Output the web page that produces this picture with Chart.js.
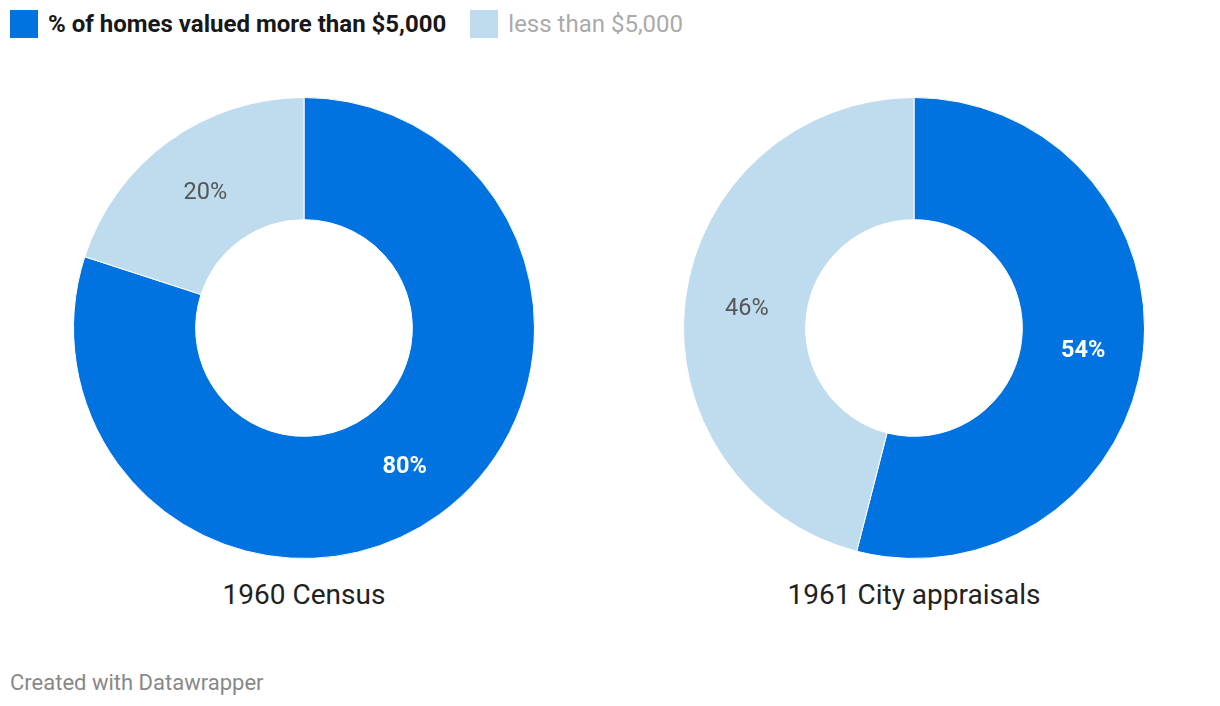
<!DOCTYPE html>
<html>
<head>
<meta charset="utf-8">
<script src="https://cdn.jsdelivr.net/npm/chart.js@4/dist/chart.umd.min.js"></script>
<style>
  html, body { margin: 0; padding: 0; background: #fff; width: 1220px; height: 706px; overflow: hidden; font-family: Roboto, "Noto Sans", sans-serif; }
  #wrap { position: relative; width: 1220px; height: 706px; }
  .legend { position: absolute; top: 10px; left: 10px; height: 28px; display: flex; align-items: center; font-size: 24px; white-space: nowrap; }
  .sw { width: 28px; height: 28px; display: inline-block; margin-right: 10px; }
  .item { display: flex; align-items: center; margin-right: 24px; }
  .chartbox { position: absolute; width: 480px; height: 480px; }
  .title { position: absolute; width: 480px; text-align: center; font-size: 28px; color: #222; top: 577px; line-height: 36px; }
  .footer { position: absolute; left: 10px; top: 670px; font-size: 22px; color: #888; line-height: 26px; }
</style>
</head>
<body>
<div id="wrap">
  <div class="legend" id="legend"></div>
  <div class="chartbox" style="left:64px; top:88px;"><canvas id="c0" width="480" height="480"></canvas></div>
  <div class="chartbox" style="left:674px; top:88px;"><canvas id="c1" width="480" height="480"></canvas></div>
  <div class="title" id="t0" style="left:64px;"></div>
  <div class="title" id="t1" style="left:674px;"></div>
  <div class="footer">Created with Datawrapper</div>
</div>
<script>
const categories = ["1960 Census", "1961 City appraisals"];
const seriesNames = ["% of homes valued more than $5,000", "less than $5,000"];
const moreThan = [80, 54];
const lessThan = [20, 46];
const colors = ["#0073e1", "#bedcee"];

// legend
const legend = document.getElementById('legend');
seriesNames.forEach((name, i) => {
  const it = document.createElement('div');
  it.className = 'item';
  const sw = document.createElement('span');
  sw.className = 'sw';
  sw.style.background = colors[i];
  const tx = document.createElement('span');
  tx.textContent = name;
  if (i === 0) { tx.style.fontWeight = '700'; tx.style.color = '#181818'; }
  else { tx.style.color = '#aaaaaa'; }
  it.appendChild(sw); it.appendChild(tx);
  legend.appendChild(it);
});

const labelPlugin = {
  id: 'arcLabels',
  afterDatasetsDraw(chart) {
    const ctx = chart.ctx;
    const meta = chart.getDatasetMeta(0);
    const data = chart.data.datasets[0].data;
    ctx.save();
    ctx.textAlign = 'center';
    ctx.textBaseline = 'middle';
    meta.data.forEach((arc, i) => {
      const p = arc.getCenterPoint();
      if (i === 0) { ctx.font = '700 23.5px Roboto'; ctx.fillStyle = '#ffffff'; }
      else { ctx.font = '400 23.5px Roboto'; ctx.fillStyle = '#555555'; }
      ctx.fillText(data[i] + '%', p.x + 1, p.y + 2);
    });
    ctx.restore();
  }
};

categories.forEach((cat, k) => {
  document.getElementById('t' + k).textContent = cat;
  new Chart(document.getElementById('c' + k), {
    type: 'doughnut',
    data: {
      labels: seriesNames,
      datasets: [{
        data: [moreThan[k], lessThan[k]],
        backgroundColor: colors,
        borderColor: '#ffffff',
        borderWidth: 1
      }]
    },
    options: {
      responsive: false,
      animation: false,
      radius: 230.5,
      cutout: '47%',
      plugins: { legend: { display: false }, tooltip: { enabled: false } }
    },
    plugins: [labelPlugin]
  });
});
</script>
</body>
</html>
